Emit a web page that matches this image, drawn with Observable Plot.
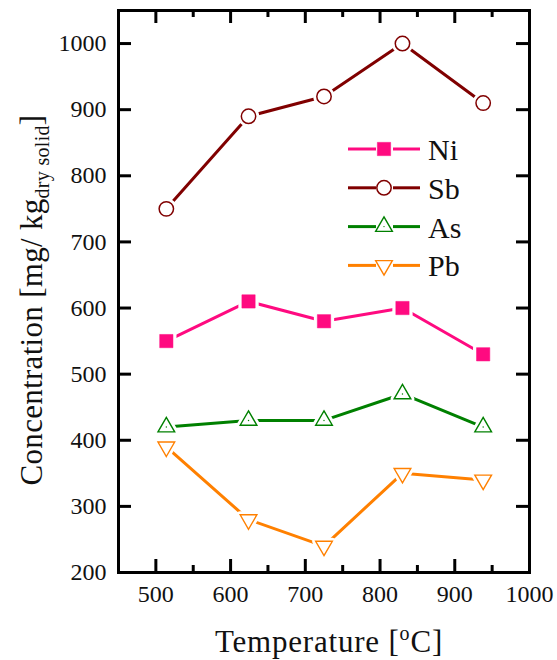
<!DOCTYPE html>
<html><head><meta charset="utf-8">
<script src="https://cdn.jsdelivr.net/npm/d3@7"></script>
<script src="https://cdn.jsdelivr.net/npm/@observablehq/plot@0.6"></script>
<style>body{margin:0;background:#fff} #chart{width:557px;height:660px} #chart svg text{font-family:'Liberation Serif','Times New Roman',serif !important}</style>
</head><body><div id="chart"></div>
<script>
// ---- data ----
const temperatures = [514, 624, 725, 830, 938];
const niValues = [550, 610, 580, 600, 530];
const sbValues = [750, 890, 920, 1000, 910];
const asValues = [420, 430, 430, 470, 420];
const pbValues = [390, 280, 240, 350, 340];
const seriesNames = ["Ni", "Sb", "As", "Pb"];
const seriesColors = ["#ff0a80", "#800000", "#008000", "#ff8000"];
const xMajorTicks = [500, 600, 700, 800, 900, 1000];
const xMinorTicks = [550, 650, 750, 850, 950];
const yMajorTicks = [200, 300, 400, 500, 600, 700, 800, 900, 1000];

// ---- layout ----
const W = 557, H = 660, mL = 118, mR = 28, mT = 10, mB = 88;
const innerW = W - mL - mR, innerH = H - mT - mB;
const FONT = "'Liberation Serif', 'Times New Roman', serif";

const sqrt3 = Math.sqrt(3);
const invTriangle = {
  draw(context, size) {
    const y = -Math.sqrt(size / (sqrt3 * 3));
    context.moveTo(0, -y * 2);
    context.lineTo(-sqrt3 * y, y);
    context.lineTo(sqrt3 * y, y);
    context.closePath();
  }
};

const valuesBySeries = [niValues, sbValues, asValues, pbValues];
const table = seriesNames.map((name, i) =>
  temperatures.map((t, j) => ({series: name, t, v: valuesBySeries[i][j]})));

const markerSpec = [
  {symbol: "square", r: 7.5, fill: seriesColors[0], stroke: seriesColors[0], sw: 0.5},
  {symbol: "circle", r: 7.2, fill: "white", stroke: seriesColors[1], sw: 1.5},
  {symbol: "triangle", r: 6.2, fill: "white", stroke: seriesColors[2], sw: 1.4},
  {symbol: invTriangle, r: 6.2, fill: "white", stroke: seriesColors[3], sw: 1.4}
];

const marks = [];
table.forEach((d, i) => marks.push(Plot.line(d, {x: "t", y: "v", stroke: seriesColors[i], strokeWidth: 3})));
table.forEach((d, i) => marks.push(Plot.dot(d, {x: "t", y: "v", symbol: markerSpec[i].symbol, r: markerSpec[i].r,
  fill: "white", stroke: "white", strokeWidth: 7, strokeLinejoin: "round"})));
table.forEach((d, i) => marks.push(Plot.dot(d, {x: "t", y: "v", symbol: markerSpec[i].symbol, r: markerSpec[i].r,
  fill: markerSpec[i].fill, stroke: markerSpec[i].stroke, strokeWidth: markerSpec[i].sw})));
marks.push(Plot.dot(table[2], {x: "t", y: "v", r: 0.7, fill: seriesColors[2]}));

// inward ticks on all four sides
marks.push(
  Plot.tickX(xMajorTicks, {x: d => d, insetTop: innerH - 13, stroke: "black", strokeWidth: 3}),
  Plot.tickX(xMinorTicks, {x: d => d, insetTop: innerH - 7, stroke: "black", strokeWidth: 3}),
  Plot.tickX(xMajorTicks, {x: d => d, insetBottom: innerH - 13, stroke: "black", strokeWidth: 3}),
  Plot.tickX(xMinorTicks, {x: d => d, insetBottom: innerH - 7, stroke: "black", strokeWidth: 3}),
  Plot.tickY(yMajorTicks, {y: d => d, insetRight: innerW - 13, stroke: "black", strokeWidth: 3}),
  Plot.tickY(yMajorTicks, {y: d => d, insetLeft: innerW - 13, stroke: "black", strokeWidth: 3}),
  Plot.axisX(xMajorTicks, {tickSize: 0, tickPadding: 12, fontSize: 24, fontFamily: FONT, tickFormat: d => String(d), label: null, fill: "#111"}),
  Plot.axisY(yMajorTicks, {tickSize: 0, tickPadding: 12, fontSize: 24, fontFamily: FONT, tickFormat: d => String(d), label: null, fill: "#111"}),
  Plot.frame({stroke: "black", strokeWidth: 3})
);

const svg = Plot.plot({
  width: W, height: H, marginLeft: mL, marginRight: mR, marginTop: mT, marginBottom: mB,
  x: {domain: [450, 1000]},
  y: {domain: [200, 1050]},
  style: {fontFamily: FONT, background: "white", overflow: "visible"},
  marks
});

const s = d3.select(svg);
s.attr("font-family", FONT);
s.selectAll("text").style("font-family", FONT).style("font-variant", "normal");
// x title
const xt = s.append("text").attr("x", 329).attr("y", 652).attr("text-anchor", "middle")
  .attr("font-family", FONT).attr("font-size", 31).attr("letter-spacing", 0.8).attr("fill", "#111");
xt.append("tspan").text("Temperature [");
xt.append("tspan").attr("font-size", 20).attr("dy", -12).text("o");
xt.append("tspan").attr("dy", 12).text("C]");
// y title
const yt = s.append("text").attr("transform", "translate(42,300) rotate(-90)").attr("text-anchor", "middle")
  .attr("font-family", FONT).attr("font-size", 31).attr("letter-spacing", 0.3).attr("fill", "#111");
yt.append("tspan").text("Concentration [mg/ kg");
yt.append("tspan").attr("font-size", 20).attr("dy", 7).text("dry solid");
yt.append("tspan").attr("dy", -7).text("]");

// legend
const lg = s.append("g");
seriesNames.forEach((name, i) => {
  const cy = 149 + i * 38.8;
  const g = lg.append("g");
  g.append("line").attr("x1", 348).attr("x2", 376).attr("y1", cy).attr("y2", cy)
    .attr("stroke", seriesColors[i]).attr("stroke-width", 3);
  g.append("line").attr("x1", 393).attr("x2", 420).attr("y1", cy).attr("y2", cy)
    .attr("stroke", seriesColors[i]).attr("stroke-width", 3);
  const m = markerSpec[i];
  const type = typeof m.symbol === "string"
    ? {square: d3.symbolSquare, circle: d3.symbolCircle, triangle: d3.symbolTriangle}[m.symbol] : m.symbol;
  g.append("path").attr("transform", `translate(384,${cy})`)
    .attr("d", d3.symbol(type, Math.PI * m.r * m.r)())
    .attr("fill", m.fill).attr("stroke", m.stroke).attr("stroke-width", m.sw);
  if (i === 2) g.append("circle").attr("cx", 384).attr("cy", cy).attr("r", 0.7).attr("fill", seriesColors[2]);
  g.append("text").attr("x", 428).attr("y", cy + 11).attr("text-anchor", "start").attr("font-family", FONT)
    .attr("font-size", 30).attr("fill", "#111").text(name);
});

document.getElementById("chart").appendChild(svg);
</script>
</body></html>
